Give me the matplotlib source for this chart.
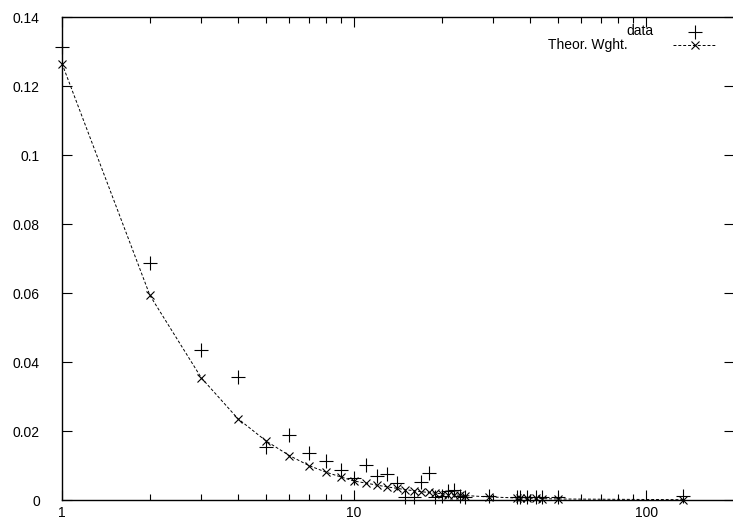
import matplotlib
matplotlib.use("Agg")
import matplotlib.pyplot as plt
from matplotlib.ticker import FixedLocator, NullFormatter

plt.rcParams['font.family'] = ['Liberation Sans', 'DejaVu Sans']

# values
x_vals = [1, 2, 3, 4, 5, 6, 7, 8, 9, 10, 11, 12, 13, 14, 15, 16, 17, 18, 19, 20,
          21, 22, 23, 24, 29, 36, 37, 39, 42, 44, 50, 134]
data = [0.1313, 0.0688, 0.0435, 0.0357, 0.0154, 0.0189, 0.0137, 0.0113, 0.0088, 0.0064,
        0.0101, 0.0070, 0.0075, 0.0048, 0.0010, 0.0010, 0.0052, 0.0078, 0.0010, 0.0012,
        0.0026, 0.0030, 0.0012, 0.0010, 0.0012, 0.0010, 0.0010, 0.0008, 0.0010, 0.0008,
        0.0008, 0.0012]
theor = [0.1265, 0.0593, 0.0354, 0.0236, 0.0171, 0.0129, 0.0100, 0.0081, 0.0067, 0.0055,
         0.0049, 0.0043, 0.0038, 0.0034, 0.0030, 0.0027, 0.0024, 0.0022, 0.0020, 0.0018,
         0.0016, 0.0015, 0.0014, 0.0013, 0.0009, 0.0006, 0.0006, 0.0005, 0.0005, 0.0004,
         0.0003, 0.0001]
y_ticks = [0, 0.02, 0.04, 0.06, 0.08, 0.1, 0.12, 0.14]
y_labels = ['0', '0.02', '0.04', '0.06', '0.08', '0.1', '0.12', '0.14']

fig = plt.figure(figsize=(7.33, 5.22), dpi=100)
ax = fig.add_axes([0.0846, 0.0421, 0.9168, 0.9253])

ax.plot(x_vals, data, linestyle='none', marker='+', markersize=10, mew=0.8, color='black', clip_on=False)
ax.plot(x_vals, theor, linestyle=(0, (3, 2)), lw=0.7, marker='x', markersize=6, mew=0.8,
        color='black', clip_on=False)

ax.set_xscale('log')
ax.set_xlim(1, 200)
ax.set_ylim(0, 0.14)
ax.set_xticks([1, 10, 100])
ax.set_xticklabels(['1', '10', '100'])
ax.xaxis.set_minor_locator(FixedLocator([2, 3, 4, 5, 6, 7, 8, 9, 20, 30, 40, 50, 60, 70, 80, 90, 200]))
ax.xaxis.set_minor_formatter(NullFormatter())
ax.set_yticks(y_ticks)
ax.set_yticklabels(y_labels)

ax.tick_params(which='major', direction='in', length=7, width=0.8, top=True, right=True,
               labelsize=10)
ax.tick_params(which='minor', direction='in', length=4, width=0.8, top=True, right=True)
ax.tick_params(axis='y', pad=16)
ax.tick_params(axis='x', pad=4)
for s in ax.spines.values():
    s.set_linewidth(1.0)

# gnuplot style key, top right
ax.text(0.8909, 0.9406, 'data', transform=fig.transFigure, fontsize=10, ha='right', va='center')
ax.text(0.8568, 0.9138, 'Theor. Wght.', transform=fig.transFigure, fontsize=10, ha='right', va='center')
ax.plot([0.948], [0.9387], transform=fig.transFigure, marker='+', markersize=10, mew=0.8,
        color='black', clip_on=False)
ax.plot([0.918, 0.977], [0.9138, 0.9138], transform=fig.transFigure, linestyle=(0, (3, 2)),
        lw=0.7, color='black', clip_on=False)
ax.plot([0.948], [0.9138], transform=fig.transFigure, marker='x', markersize=6, mew=0.8,
        color='black', clip_on=False)

fig.savefig('out.png', dpi=100)
